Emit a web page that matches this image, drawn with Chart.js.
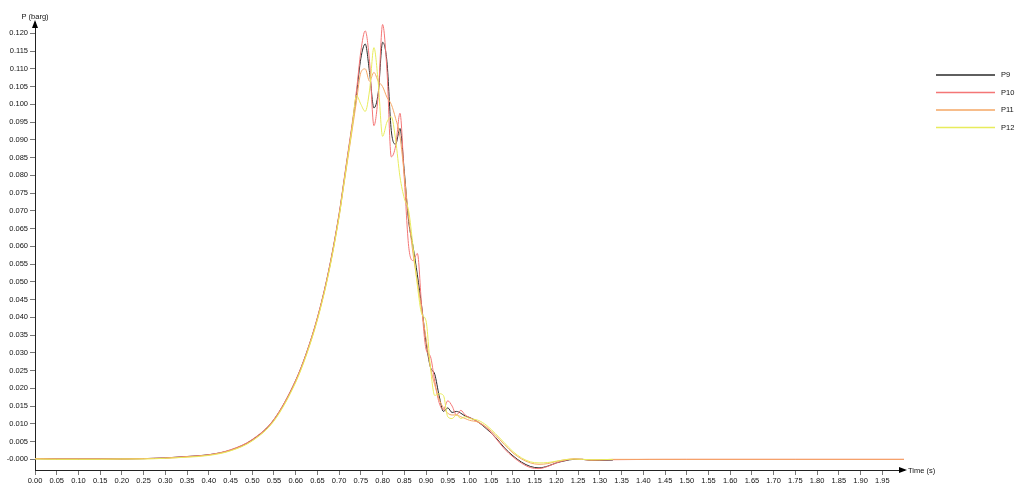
<!DOCTYPE html>
<html>
<head>
<meta charset="utf-8">
<title>P (barg)</title>
<script src="https://cdn.jsdelivr.net/npm/chart.js@4.4.1/dist/chart.umd.min.js"></script>
<style>
  html, body { margin: 0; padding: 0; background: #fff; }
  canvas { display: block; }
</style>
</head>
<body>
<canvas id="chart" width="1017" height="485"></canvas>
<script>
// time axis (s), shared by every series
var timeS = [0.00, 0.05, 0.10, 0.15, 0.20, 0.25, 0.30, 0.35, 0.40, 0.45,
             0.50, 0.55, 0.60, 0.625, 0.65, 0.675, 0.70, 0.71, 0.72, 0.73,
             0.74, 0.75, 0.76, 0.77, 0.78, 0.79, 0.80, 0.81, 0.82, 0.83,
             0.84, 0.85, 0.86, 0.87, 0.88, 0.89, 0.90, 0.91, 0.92, 0.93,
             0.94, 0.95, 0.96, 0.97, 0.98, 0.99, 1.00, 1.02, 1.04, 1.06,
             1.08, 1.10, 1.12, 1.14, 1.16, 1.18, 1.20, 1.22, 1.24, 1.26,
             1.28, 1.30, 1.33, 1.50, 1.75, 2.00];

// pressure (barg) per sensor
var p9 = [0.0002, 0.0001, 0.0001, 0.0001, 0.0001, 0.0002, 0.0004, 0.0008, 0.0013, 0.0026,
          0.0055, 0.0112, 0.0222, 0.0300, 0.0398, 0.0525, 0.0690, 0.0773, 0.0857, 0.0940,
          0.1030, 0.1130, 0.1170, 0.1090, 0.0990, 0.1033, 0.1175, 0.1120, 0.0926, 0.0888,
          0.0932, 0.0810, 0.0670, 0.0600, 0.0520, 0.0430, 0.0330, 0.0260, 0.0240, 0.0180,
          0.0135, 0.0145, 0.0132, 0.0135, 0.0130, 0.0122, 0.0118, 0.0105, 0.0085, 0.0062,
          0.0033, 0.0010, -0.0008, -0.0020, -0.0024, -0.0019, -0.0010, -0.0004, 0.0000, 0.0000,
          -0.0003, -0.0003, -0.0002];
var p10 = [0.0002, 0.0001, 0.0001, 0.0001, 0.0001, 0.0002, 0.0004, 0.0008, 0.0013, 0.0027,
           0.0056, 0.0113, 0.0223, 0.0301, 0.0400, 0.0527, 0.0693, 0.0777, 0.0862, 0.0946,
           0.1040, 0.1150, 0.1207, 0.1120, 0.0940, 0.1027, 0.1225, 0.1096, 0.0852, 0.0883,
           0.0975, 0.0790, 0.0600, 0.0560, 0.0580, 0.0430, 0.0310, 0.0290, 0.0220, 0.0160,
           0.0140, 0.0165, 0.0150, 0.0125, 0.0138, 0.0125, 0.0118, 0.0105, 0.0088, 0.0060,
           0.0030, 0.0007, -0.0011, -0.0023, -0.0026, -0.0020, -0.0010, -0.0003, 0.0001, 0.0000,
           -0.0002, -0.0002, -0.0001, 0.0000, 0.0000, 0.0000];
var p11 = [0.0002, 0.0001, 0.0001, 0.0001, 0.0001, 0.0002, 0.0003, 0.0007, 0.0012, 0.0025,
           0.0053, 0.0110, 0.0219, 0.0297, 0.0395, 0.0521, 0.0685, 0.0766, 0.0847, 0.0928,
           0.1010, 0.1090, 0.1100, 0.1065, 0.1090, 0.1065, 0.1050, 0.1020, 0.1000, 0.0960,
           0.0910, 0.0800, 0.0680, 0.0580, 0.0500, 0.0420, 0.0340, 0.0260, 0.0210, 0.0170,
           0.0145, 0.0130, 0.0125, 0.0125, 0.0120, 0.0115, 0.0110, 0.0105, 0.0090, 0.0068,
           0.0042, 0.0018, 0.0001, -0.0010, -0.0014, -0.0012, -0.0006, -0.0001, 0.0001, 0.0000,
           -0.0002, -0.0001, 0.0000, 0.0000, 0.0000, 0.0000];
var p12 = [0.0001, 0.0000, 0.0000, 0.0000, 0.0001, 0.0001, 0.0003, 0.0006, 0.0011, 0.0024,
           0.0052, 0.0108, 0.0217, 0.0295, 0.0393, 0.0519, 0.0684, 0.0768, 0.0852, 0.0935,
           0.1025, 0.1000, 0.0980, 0.1040, 0.1160, 0.1060, 0.0910, 0.0950, 0.0965, 0.0900,
           0.0796, 0.0735, 0.0700, 0.0600, 0.0490, 0.0410, 0.0390, 0.0260, 0.0180, 0.0185,
           0.0180, 0.0120, 0.0115, 0.0125, 0.0115, 0.0120, 0.0115, 0.0110, 0.0095, 0.0072,
           0.0047, 0.0022, 0.0004, -0.0007, -0.0010, -0.0009, -0.0005, -0.0001, 0.0001, 0.0000,
           -0.0001, -0.0001, 0.0000];

var seriesNames = ['P9', 'P10', 'P11', 'P12'];
var seriesValues = [p9, p10, p11, p12];
var seriesColors = ['#2a2a2a', '#f47676', '#f5a765', '#e8ec5c'];

var FONT = '"Liberation Sans", Arial, sans-serif';

function toPoints(vals) {
  return vals.map(function (v, i) { return { x: timeS[i], y: v }; });
}

// arrows, axis titles and the legend on the right
var decor = {
  id: 'decor',
  afterDraw: function (chart) {
    var ctx = chart.ctx;
    var xs = chart.scales.x, ys = chart.scales.y;
    var x0 = xs.left, yb = ys.bottom;
    ctx.save();
    ctx.fillStyle = '#000';
    // y arrow
    ctx.beginPath();
    ctx.moveTo(x0, ys.top - 2);
    ctx.lineTo(x0 - 3, ys.top + 6);
    ctx.lineTo(x0 + 3, ys.top + 6);
    ctx.closePath();
    ctx.fill();
    // x arrow
    ctx.beginPath();
    ctx.moveTo(xs.right + 3, yb);
    ctx.lineTo(xs.right - 5, yb - 3);
    ctx.lineTo(xs.right - 5, yb + 3);
    ctx.closePath();
    ctx.fill();

    ctx.font = '7.5px ' + FONT;
    ctx.fillStyle = '#111';
    ctx.textBaseline = 'middle';
    ctx.textAlign = 'center';
    ctx.fillText('P (barg)', x0, 17);
    ctx.textAlign = 'left';
    ctx.fillText('Time (s)', xs.right + 4, yb + 1);

    // legend
    chart.data.datasets.forEach(function (ds, i) {
      var ly = 75 + i * 17.5;
      ctx.strokeStyle = ds.borderColor;
      ctx.lineWidth = 1.5;
      ctx.beginPath();
      ctx.moveTo(936, ly);
      ctx.lineTo(995, ly);
      ctx.stroke();
      ctx.fillStyle = '#111';
      ctx.fillText(ds.label, 1001, ly);
    });
    ctx.restore();
  }
};

new Chart(document.getElementById('chart').getContext('2d'), {
  type: 'line',
  data: {
    datasets: seriesNames.map(function (name, i) {
      return {
        label: name,
        data: toPoints(seriesValues[i]),
        borderColor: seriesColors[i],
        backgroundColor: seriesColors[i],
        borderWidth: 1,
        pointRadius: 0,
        cubicInterpolationMode: 'monotone',
        order: seriesNames.length - i,
        fill: false
      };
    })
  },
  options: {
    responsive: false,
    devicePixelRatio: 1,
    animation: false,
    layout: { padding: { top: 22, right: 113, left: 0, bottom: 0 } },
    plugins: { legend: { display: false }, tooltip: { enabled: false } },
    scales: {
      x: {
        type: 'linear',
        min: 0,
        max: 2.0,
        afterFit: function (s) { s.height = 15; },
        border: { display: true, color: '#222', width: 1 },
        grid: { display: true, drawOnChartArea: false, drawTicks: true, tickLength: 5, color: '#777' },
        ticks: {
          stepSize: 0.05,
          includeBounds: false,
          autoSkip: false,
          maxRotation: 0,
          padding: 1,
          color: '#111',
          font: { family: FONT, size: 7.5 },
          callback: function (v) { return v > 1.97 ? null : v.toFixed(2); }
        }
      },
      y: {
        min: -0.0030,
        max: 0.1232,
        afterFit: function (s) { s.width = 35; },
        border: { display: true, color: '#222', width: 1 },
        grid: { display: true, drawOnChartArea: false, drawTicks: true, tickLength: 5, color: '#777' },
        ticks: {
          stepSize: 0.005,
          includeBounds: false,
          autoSkip: false,
          padding: 2,
          color: '#111',
          font: { family: FONT, size: 7.5 },
          callback: function (v) { return Math.abs(v) < 1e-9 ? '-0.000' : v.toFixed(3); }
        }
      }
    }
  },
  plugins: [decor]
});
</script>
</body>
</html>
